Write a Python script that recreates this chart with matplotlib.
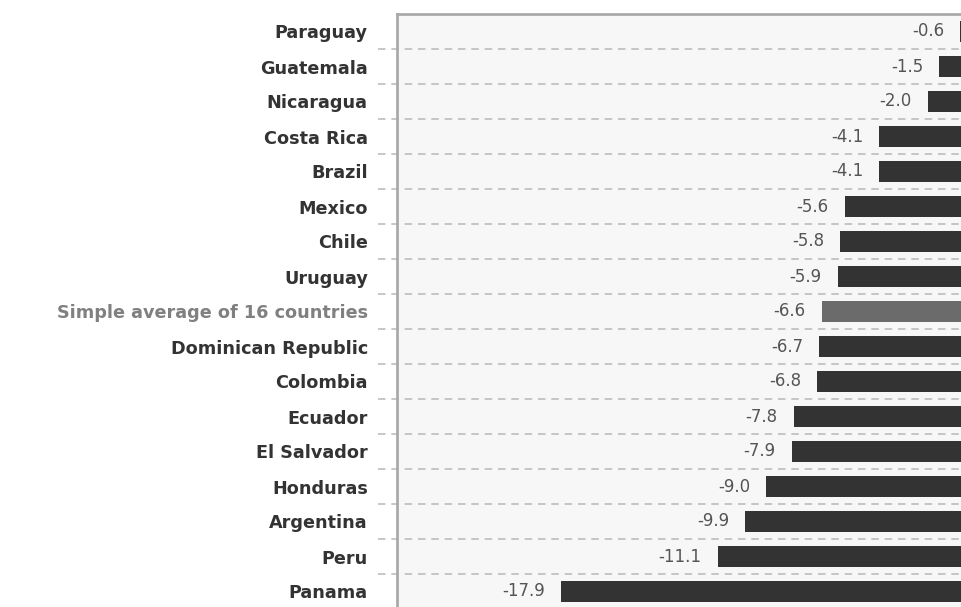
import matplotlib
matplotlib.use("Agg")
import matplotlib.pyplot as plt
from matplotlib.transforms import blended_transform_factory

countries = ["Paraguay", "Guatemala", "Nicaragua", "Costa Rica", "Brazil", "Mexico",
             "Chile", "Uruguay", "Simple average of 16 countries", "Dominican Republic",
             "Colombia", "Ecuador", "El Salvador", "Honduras", "Argentina", "Peru", "Panama"]
values = [-0.6, -1.5, -2.0, -4.1, -4.1, -5.6, -5.8, -5.9, -6.6, -6.7, -6.8,
          -7.8, -7.9, -9.0, -9.9, -11.1, -17.9]
highlight = "Simple average of 16 countries"

W, H = 962, 607
fig = plt.figure(figsize=(W / 100, H / 100), dpi=100)
left_px, right_px, top_px, bottom_px = 397, 973.8, 14, 609
ax = fig.add_axes([left_px / W, 1 - bottom_px / H, (right_px - left_px) / W, (bottom_px - top_px) / H])
ax.set_facecolor("#f7f7f7")

n = len(countries)
ypos = list(range(n))
colors = ["#6b6b6b" if c == highlight else "#333333" for c in countries]
ax.barh(ypos, values, height=0.6, color=colors, zorder=3)
ax.set_xlim(-25, 0)
ax.set_ylim(n - 0.5, -0.5)

for y, v in zip(ypos, values):
    ax.annotate(f"{v:.1f}", xy=(v, y), xytext=(-11.5, 0), textcoords="offset points",
                ha="right", va="center", fontsize=12, color="#555555",
                family="DejaVu Sans", zorder=4)

trans = blended_transform_factory(ax.transAxes, ax.transData)
for b in range(1, n):
    ax.plot([-0.033, 1], [b - 0.5, b - 0.5], transform=trans, clip_on=False,
            color="#bdbdbd", lw=1.2, ls=(0, (4.5, 3.5)), zorder=1)

ax.set_yticks(ypos)
ax.set_yticklabels(countries, family="DejaVu Sans", fontweight="bold", fontsize=12.7)
for lbl, c in zip(ax.get_yticklabels(), countries):
    lbl.set_color("#808080" if c == highlight else "#333333")
ax.tick_params(axis="y", length=0, pad=21)
ax.set_xticks([])

for s in ["right", "bottom"]:
    ax.spines[s].set_visible(False)
for s in ["left", "top"]:
    ax.spines[s].set_color("#aaaaaa")
    ax.spines[s].set_linewidth(2)

fig.savefig("out.png", dpi=100, facecolor="white")
